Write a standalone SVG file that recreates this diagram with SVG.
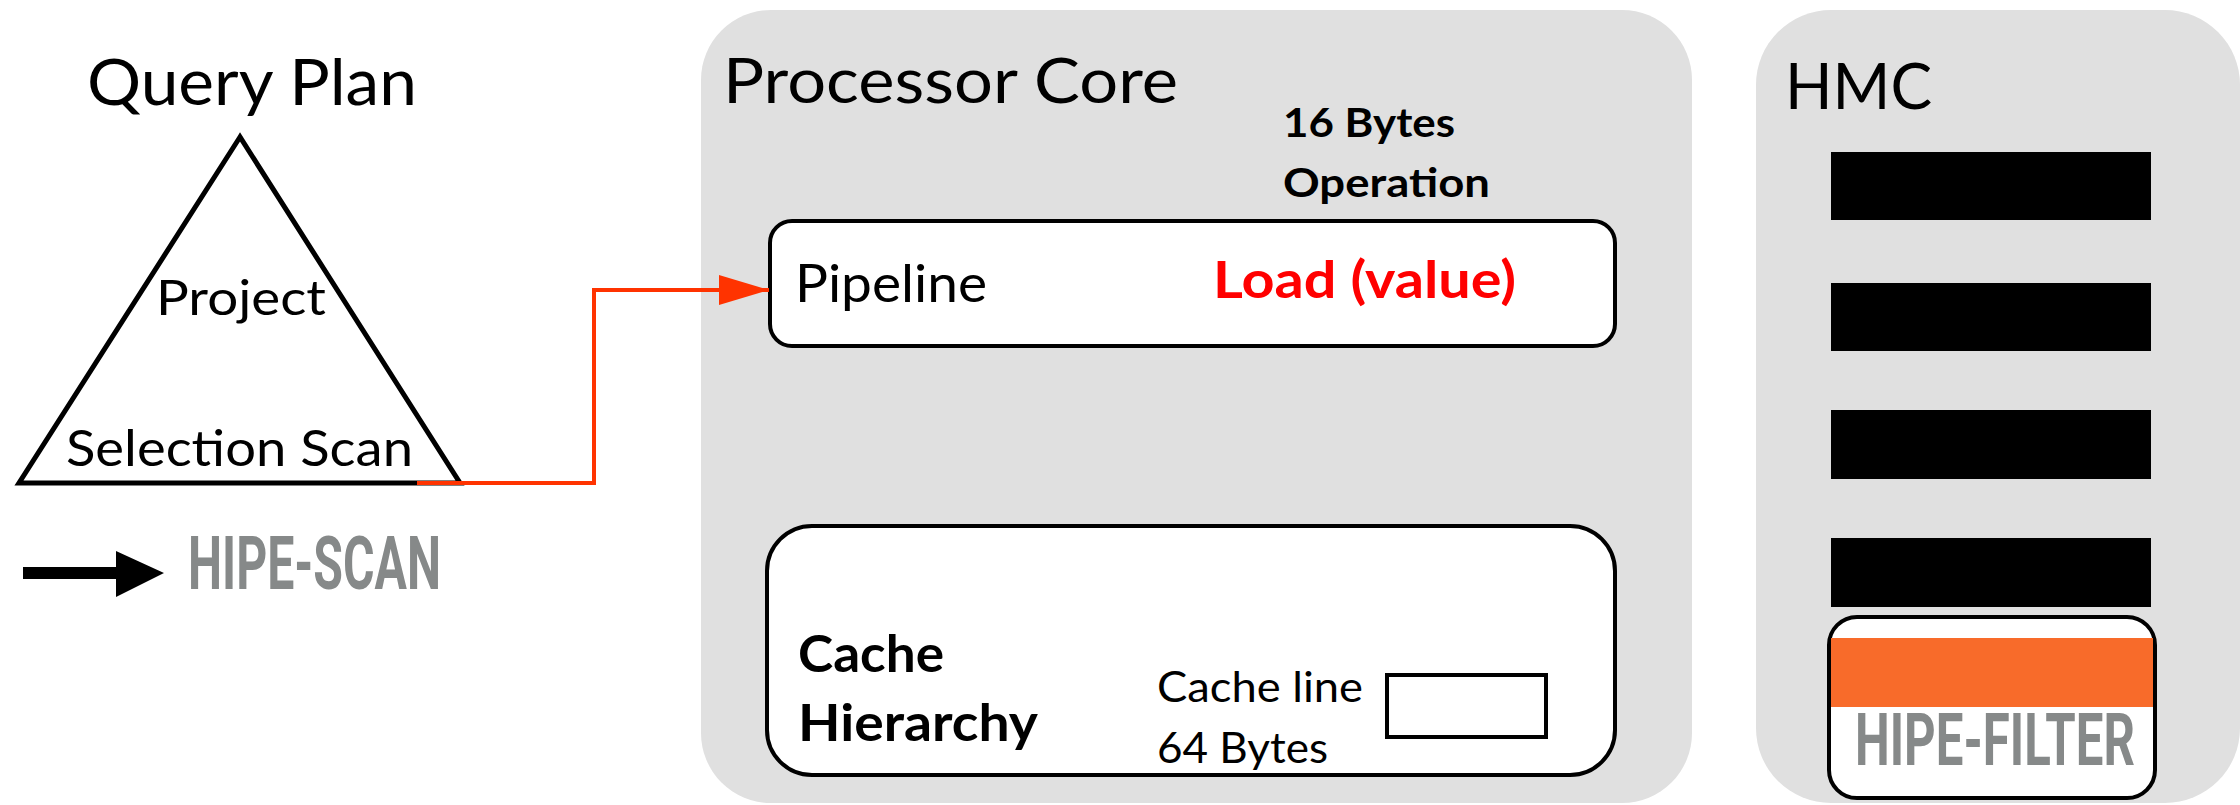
<svg xmlns="http://www.w3.org/2000/svg" width="2240" height="805" viewBox="0 0 2240 805">
  <style>
    .panel { fill: #e0e0e0; stroke: none; }
    .box { fill: #ffffff; stroke: #000000; stroke-width: 4; }
    .txt { font-family: Lato, "Open Sans", "Liberation Sans", sans-serif; fill: #000000; }
    .bold { font-weight: bold; }
    .hipe { font-family: Roboto, "Liberation Sans", sans-serif; font-weight: bold; fill: #868989; }
    .bar { fill: #000000; }
    .link { fill: none; stroke: #ff3300; stroke-width: 4; }
  </style>
  <defs>
    <marker id="redHead" markerUnits="userSpaceOnUse" markerWidth="50" markerHeight="30" refX="50" refY="15" orient="auto">
      <polygon points="0,0 50,15 0,30" fill="#ff3300"/>
    </marker>
  </defs>

  <rect width="2240" height="805" fill="#ffffff"/>

  <!-- query plan -->
  <g id="query-plan">
    <text class="txt" x="87" y="105" font-size="64" textLength="330" lengthAdjust="spacingAndGlyphs">Query Plan</text>
    <polygon points="240,137 19,483 460,483" fill="none" stroke="#000000" stroke-width="5" stroke-linejoin="miter"/>
    <text class="txt" x="156" y="315" font-size="48" textLength="170" lengthAdjust="spacingAndGlyphs">Project</text>
    <text class="txt" x="66" y="466" font-size="50" textLength="347" lengthAdjust="spacingAndGlyphs">Selection Scan</text>
  </g>

  <!-- legend -->
  <g id="legend-hipe-scan">
    <polygon points="23,567 116,567 116,551 164,573 116,597 116,579 23,579" fill="#000000"/>
    <text class="hipe" x="188" y="589" font-size="74" textLength="253" lengthAdjust="spacingAndGlyphs">HIPE-SCAN</text>
  </g>

  <!-- processor core -->
  <g id="processor-core">
    <rect class="panel" x="701" y="10" width="991" height="793" rx="70" ry="70"/>
    <text class="txt" x="723" y="103" font-size="62" textLength="455" lengthAdjust="spacingAndGlyphs">Processor Core</text>
    <text class="txt bold" x="1283" y="137" font-size="40" textLength="172" lengthAdjust="spacingAndGlyphs">16 Bytes</text>
    <text class="txt bold" x="1283" y="197" font-size="40" textLength="207" lengthAdjust="spacingAndGlyphs">Operation</text>
  </g>

  <g id="pipeline">
    <rect class="box" x="770" y="221" width="845" height="125" rx="22" ry="22"/>
    <text class="txt" x="795" y="302" font-size="52" textLength="192" lengthAdjust="spacingAndGlyphs">Pipeline</text>
    <text class="txt bold" x="1213" y="298" font-size="52" style="fill:#ff0000" textLength="303" lengthAdjust="spacingAndGlyphs">Load (value)</text>
  </g>

  <g id="cache-hierarchy">
    <rect class="box" x="767" y="526" width="848" height="249" rx="45" ry="45"/>
    <text class="txt bold" x="798" y="672" font-size="52" textLength="146" lengthAdjust="spacingAndGlyphs">Cache</text>
    <text class="txt bold" x="798" y="741" font-size="52" textLength="240" lengthAdjust="spacingAndGlyphs">Hierarchy</text>
    <text class="txt" x="1157" y="702" font-size="43" textLength="206" lengthAdjust="spacingAndGlyphs">Cache line</text>
    <text class="txt" x="1157" y="763" font-size="43" textLength="171" lengthAdjust="spacingAndGlyphs">64 Bytes</text>
    <rect x="1387" y="675" width="159" height="62" fill="#ffffff" stroke="#000000" stroke-width="4"/>
  </g>

  <!-- HMC -->
  <g id="hmc">
    <rect class="panel" x="1756" y="10" width="484" height="793" rx="75" ry="75"/>
    <text class="txt" x="1785" y="109" font-size="64" textLength="147" lengthAdjust="spacingAndGlyphs">HMC</text>
    <rect class="bar" x="1831" y="152" width="320" height="68"/>
    <rect class="bar" x="1831" y="283" width="320" height="68"/>
    <rect class="bar" x="1831" y="410" width="320" height="69"/>
    <rect class="bar" x="1831" y="538" width="320" height="69"/>
  </g>

  <g id="hipe-filter">
    <rect class="box" x="1829" y="617" width="326" height="181" rx="28" ry="28"/>
    <rect x="1831" y="638" width="322" height="69" fill="#f86b2a"/>
    <text class="hipe" x="1855" y="765" font-size="72" textLength="280" lengthAdjust="spacingAndGlyphs">HIPE-FILTER</text>
  </g>

  <!-- connectors -->
  <g id="connectors">
    <path class="link" d="M417,483 H594 V290 H769" marker-end="url(#redHead)"/>
  </g>
</svg>
